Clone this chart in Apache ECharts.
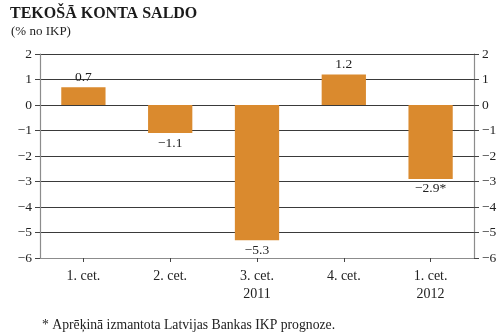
<!DOCTYPE html>
<html>
<head>
<meta charset="utf-8">
<script src="https://cdn.jsdelivr.net/npm/echarts@6/dist/echarts.min.js"></script>
<style>
  html, body { margin: 0; padding: 0; background: #fff; }
  #chart { width: 500px; height: 336px; }
</style>
</head>
<body>
<div id="chart"></div>
<script>
// Current account balance, % of GDP, by quarter
const quarters = ['1. cet.', '2. cet.', '3. cet.', '4. cet.', '1. cet.'];
const years = ['', '', '2011', '', '2012'];
const balance = [0.7, -1.1, -5.3, 1.2, -2.9];
const estimated = [false, false, false, false, true];
const yMin = -6, yMax = 2, yStep = 1;

const serif = '"Liberation Serif", "DejaVu Serif", serif';
const minus = s => String(s).replace('-', '\u2212');

const categories = quarters.map((q, i) => years[i] ? q + '\n' + years[i] : q);

const valueAxis = (pos) => ({
  type: 'value',
  position: pos,
  min: yMin, max: yMax, interval: yStep,
  axisLine: { show: true, lineStyle: { color: '#8c8c8c', width: 1.2 } },
  axisTick: { show: true, length: 5, lineStyle: { color: '#444' } },
  splitLine: { show: pos === 'left', lineStyle: { color: '#3a3a3a', width: 1 } },
  axisLabel: {
    color: '#222', fontFamily: serif, fontSize: 13.5, margin: 8,
    formatter: v => minus(v)
  }
});

const chart = echarts.init(document.getElementById('chart'));
chart.setOption({
  animation: false,
  title: [
    { text: 'TEKOŠĀ KONTA SALDO', left: 5, top: 1,
      textStyle: { fontFamily: serif, fontWeight: 'bold', fontSize: 16, color: '#1a1a1a' } },
    { text: '(% no IKP)', left: 6, top: 20,
      textStyle: { fontFamily: serif, fontWeight: 'normal', fontSize: 13, color: '#222' } },
    { text: '* Aprēķinā izmantota Latvijas Bankas IKP prognoze.', left: 37, top: 313,
      textStyle: { fontFamily: serif, fontWeight: 'normal', fontSize: 13.7, color: '#222' } }
  ],
  grid: { left: 40, right: 26, top: 54, bottom: 78, containLabel: false },
  xAxis: {
    type: 'category',
    data: categories,
    axisLine: { show: true, onZero: false, lineStyle: { color: '#8c8c8c', width: 1.2 } },
    axisTick: { show: true, alignWithLabel: true, length: 4, lineStyle: { color: '#444' } },
    axisLabel: { color: '#222', fontFamily: serif, fontSize: 14, margin: 9, lineHeight: 18 }
  },
  yAxis: [valueAxis('left'), valueAxis('right')],
  series: [{
    type: 'bar',
    data: balance.map((v, i) => ({
      value: v,
      label: { position: v >= 0 ? 'top' : 'bottom' }
    })),
    barWidth: '51%',
    itemStyle: { color: '#DA8A2E' },
    label: {
      show: true,
      distance: 3,
      color: '#222',
      fontFamily: serif,
      fontSize: 13.5,
      formatter: p => minus(p.value.toFixed(1)) + (estimated[p.dataIndex] ? '*' : '')
    }
  }]
});
</script>
</body>
</html>
